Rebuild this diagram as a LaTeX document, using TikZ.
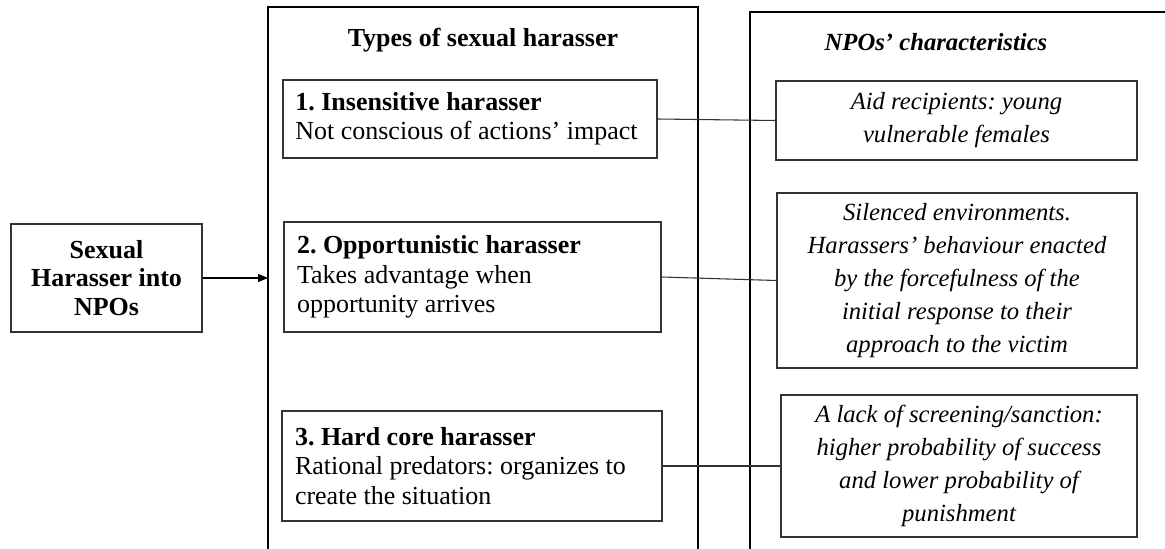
\documentclass[tikz,border=0pt]{standalone}
\usepackage{fontspec}
\setmainfont{Liberation Serif}
\usetikzlibrary{arrows.meta,positioning}
\frenchspacing

\begin{document}
\begin{tikzpicture}[
  x=0.75pt, y=-0.75pt,
  panel/.style={draw, line width=1.6pt},
  ttl/.style={font=\fontsize{19.5}{22}\selectfont\bfseries},
  hbox/.style={rectangle, draw=black!80, line width=0.8pt, inner sep=0pt,
               font=\fontsize{19.5}{22}\selectfont\frenchspacing, align=flush left},
  cbox/.style={rectangle, draw=black!80, line width=0.8pt, inner sep=0pt,
               font=\fontsize{18.5}{24.75}\selectfont\itshape, align=center},
  link/.style={draw=black!80, line width=0.8pt},
  arr/.style={draw, -{Triangle[length=7.5pt,width=6pt]}, line width=0.8pt}
]
\useasboundingbox (0,0) rectangle (1165,549);
% Panels (open at the bottom)
\coordinate (tl) at (268,7);
\coordinate (tr) at (698,7);
\coordinate (nl) at (750,12);
\draw[panel] (tl |- 0,552) -- (tl) -- (tr) -- (tr |- 0,552);
\draw[panel] (nl |- 0,552) -- (nl) -- (1170,12);
\node[ttl] (types) at (483,40) {Types of sexual harasser};
\node[ttl, font=\fontsize{18.5}{21}\selectfont\bfseries\itshape] (npo) at (936,42)
  {NPOs’ characteristics};
% Source
\node[hbox, align=center, font=\fontsize{19.5}{21.5}\selectfont\bfseries,
      minimum width=143.25pt, minimum height=81pt] (src) at (106.5,278)
  {Sexual\\Harasser into\\NPOs};
\draw[arr] (src.east) -- (src.east -| tl);
% Types of harasser
\node[hbox, minimum width=280.5pt, minimum height=58.5pt, text width=262pt]
  (t1) at (470,119)
  {\textbf{1. Insensitive harasser}\\Not conscious of actions’ impact};
\node[hbox, minimum width=282.75pt, minimum height=82.5pt, text width=263.25pt]
  (t2) at (472.5,277)
  {\textbf{2. Opportunistic harasser}\\Takes advantage when\\opportunity arrives};
\node[hbox, minimum width=285pt, minimum height=82.5pt, text width=265.5pt]
  (t3) at (472,466)
  {\textbf{3. Hard core harasser}\\Rational predators: organizes to\\create the situation};
% Characteristics
\node[cbox, minimum width=270.75pt, minimum height=59.25pt] (c1) at (956.5,120.5)
  {Aid recipients: young\\vulnerable females};
\node[cbox, minimum width=270pt, minimum height=131.25pt] (c2) at (957,280.5)
  {Silenced environments.\\Harassers’ behaviour enacted\\by the forcefulness of the\\
   initial response to their\\approach to the victim};
\node[cbox, minimum width=267pt, minimum height=106.5pt] (c3) at (959,466)
  {A lack of screening/sanction:\\higher probability of success\\
   and lower probability of\\punishment};
% Links
\draw[link] (t1.east) -- (c1.west);
\draw[link] (t2.east) -- (c2.west);
\draw[link] (t3.east) -- (c3.west);
\end{tikzpicture}
\end{document}
